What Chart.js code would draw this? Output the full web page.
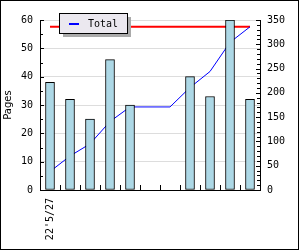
<!DOCTYPE html>
<html>
<head>
<meta charset="utf-8">
<script src="https://cdn.jsdelivr.net/npm/chart.js@4"></script>
<style>
html,body{margin:0;padding:0;background:#fff;}
canvas{display:block;}
</style>
</head>
<body>
<canvas id="c" width="300" height="250"></canvas>
<script>
const categories = ["22'5/27", "", "", "", "", "", "", "", "", "", ""];
const pages = [38, 32, 25, 46, 30, null, null, 40, 33, 60, 32];
const total = [38, 70, 95, 141, 171, 171, 171, 211, 244, 304, 336];
const grandTotal = [336, 336, 336, 336, 336, 336, 336, 336, 336, 336, 336];
const leftTicks = [0, 10, 20, 30, 40, 50, 60];
const rightTicks = [0, 50, 100, 150, 200, 250, 300, 350];
const legendLabel = "Total";
const yTitle = "Pages";

const FONT = "'DejaVu Sans Mono', monospace";

const decor = {
  id: 'decor',
  beforeDraw(chart) {
    const ctx = chart.ctx;
    ctx.save();
    ctx.fillStyle = '#fff';
    ctx.fillRect(0, 0, chart.width, chart.height);
    ctx.restore();
  },
  afterDraw(chart) {
    const ctx = chart.ctx;
    const a = chart.chartArea;
    const x = chart.scales.x, y = chart.scales.y, y2 = chart.scales.y2;
    ctx.save();
    ctx.strokeStyle = '#000';
    ctx.lineWidth = 1;
    ctx.beginPath();
    // left ticks (inward)
    for (let v = 0; v <= 60; v += 5) {
      const py = Math.round(y.getPixelForValue(v)) + 0.5;
      const len = v % 10 === 0 ? 4 : 3;
      ctx.moveTo(a.left, py); ctx.lineTo(a.left + len, py);
    }
    // right ticks (inward)
    for (let v = 0; v <= 350; v += 10) {
      const py = Math.round(y2.getPixelForValue(v)) + 0.5;
      const len = v % 50 === 0 ? 4 : 3;
      ctx.moveTo(a.right, py); ctx.lineTo(a.right - len, py);
    }
    // bottom ticks between categories (inward)
    for (let i = 0; i < categories.length - 1; i++) {
      const px = Math.round((x.getPixelForValue(i) + x.getPixelForValue(i + 1)) / 2) + 0.5;
      ctx.moveTo(px, a.bottom); ctx.lineTo(px, a.bottom - 5);
    }
    ctx.stroke();

    // legend
    const lx = 59.5, ly = 13.5, lw = 68, lh = 20;
    ctx.fillStyle = '#aaaaaa';
    ctx.fillRect(lx + 3.5, ly + 3.5, lw, lh);
    ctx.fillStyle = '#ebe8ef';
    ctx.fillRect(lx, ly, lw, lh);
    ctx.strokeStyle = '#000';
    ctx.strokeRect(lx, ly, lw, lh);
    ctx.strokeStyle = '#0000ff';
    ctx.lineWidth = 2;
    ctx.beginPath();
    ctx.moveTo(69, 24); ctx.lineTo(79, 24);
    ctx.stroke();
    ctx.fillStyle = '#000';
    ctx.font = '10px ' + FONT;
    ctx.textBaseline = 'middle';
    ctx.textAlign = 'left';
    ctx.fillText(legendLabel, 88, 24);

    // outer frame
    ctx.lineWidth = 1;
    ctx.strokeStyle = '#000';
    ctx.strokeRect(0.5, 0.5, 298, 249);
    ctx.restore();
  }
};

new Chart(document.getElementById('c'), {
  data: {
    labels: categories,
    datasets: [
      {
        type: 'bar',
        data: pages,
        yAxisID: 'y',
        backgroundColor: '#add8e6',
        borderColor: '#000',
        borderWidth: 1,
        borderSkipped: false,
        barThickness: 9,
        order: 0
      },
      {
        type: 'line',
        data: total,
        yAxisID: 'y2',
        borderColor: '#0000ff',
        borderWidth: 1,
        pointRadius: 0,
        tension: 0,
        fill: false,
        order: 1
      },
      {
        type: 'line',
        data: grandTotal,
        yAxisID: 'y2',
        borderColor: '#ff0000',
        borderWidth: 2,
        pointRadius: 0,
        tension: 0,
        fill: false,
        order: 2
      }
    ]
  },
  options: {
    responsive: false,
    animation: false,
    devicePixelRatio: 1,
    layout: { padding: { top: 20, left: 0, right: 0, bottom: 0 } },
    plugins: { legend: { display: false }, tooltip: { enabled: false } },
    scales: {
      x: {
        type: 'category',
        offset: true,
        grid: { display: false, drawTicks: false },
        border: { display: true, color: '#000', width: 1 },
        ticks: {
          autoSkip: false, maxRotation: 90, minRotation: 90,
          color: '#000', padding: 8,
          font: { family: FONT, size: 10 }
        },
        afterFit(s) { s.height = 60; }
      },
      y: {
        position: 'left',
        min: 0, max: 60,
        afterBuildTicks(s) { s.ticks = leftTicks.map(v => ({ value: v })); },
        grid: { color: '#dddddd', drawTicks: false },
        border: { display: true, color: '#000', width: 1 },
        ticks: { color: '#000', padding: 7, font: { family: FONT, size: 10 } },
        title: { display: true, text: yTitle, color: '#000', padding: { top: 2, bottom: 0 }, font: { family: "'DejaVu Sans', sans-serif", size: 10 } },
        afterFit(s) { s.width = 40; }
      },
      y2: {
        position: 'right',
        min: 0, max: 350,
        afterBuildTicks(s) { s.ticks = rightTicks.map(v => ({ value: v })); },
        grid: { display: false, drawTicks: false },
        border: { display: true, color: '#000', width: 1 },
        ticks: { color: '#000', padding: 7, font: { family: FONT, size: 10 } },
        afterFit(s) { s.width = 40; }
      }
    }
  },
  plugins: [decor]
});
</script>
</body>
</html>
